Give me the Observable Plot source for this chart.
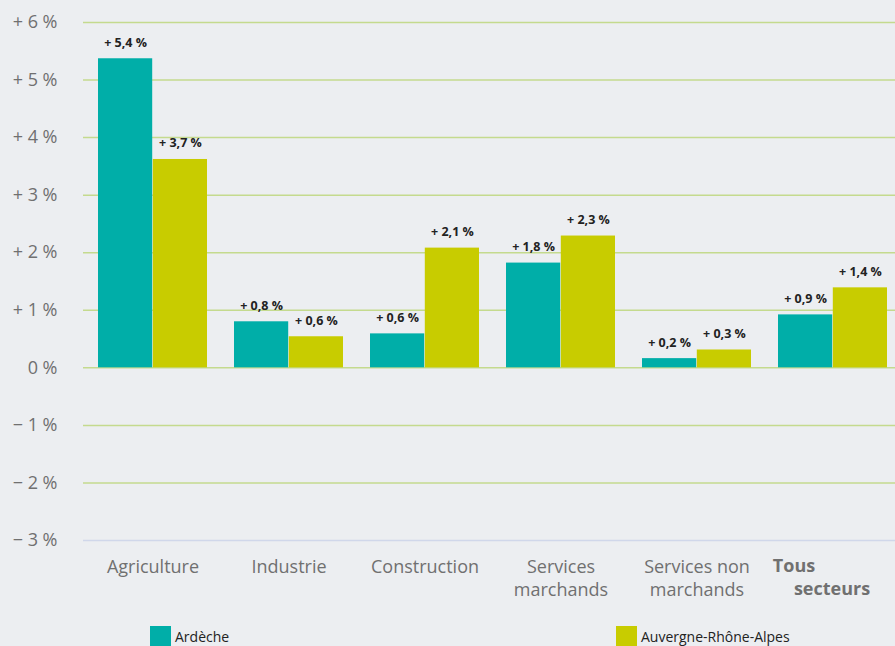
<!DOCTYPE html>
<html>
<head>
<meta charset="utf-8">
<script src="https://cdn.jsdelivr.net/npm/d3@7"></script>
<script src="https://cdn.jsdelivr.net/npm/@observablehq/plot@0.6"></script>
<style>
  html, body { margin: 0; padding: 0; background: #eceef1; width: 895px; height: 646px; overflow: hidden; }
  body { position: relative; font-family: "Open Sans", sans-serif; }
  #chart svg { background: #eceef1; display: block; }
  .leg { position: absolute; display: flex; align-items: center; font-size: 14px; color: #222; }
  .sw { width: 21px; height: 21px; margin-right: 4px; }
</style>
</head>
<body>
<div id="chart"></div>
<div class="leg" style="left:150px; top:626px;"><div class="sw" style="background:#00aea8"></div><span>Ardèche</span></div>
<div class="leg" style="left:616px; top:626px;"><div class="sw" style="background:#c8cc00"></div><span>Auvergne-Rhône-Alpes</span></div>
<script>
const sectors = ["Agriculture", "Industrie", "Construction", "Services marchands", "Services non marchands", "Tous secteurs"];
const sectorLabels = ["Agriculture", "Industrie", "Construction", "Services\nmarchands", "Services non\nmarchands"];
const boldLabel1 = "Tous";
const boldLabel2 = "secteurs";
const ardeche = [5.37, 0.80, 0.59, 1.82, 0.16, 0.92];
const aura = [3.62, 0.54, 2.08, 2.29, 0.31, 1.39];
const ardecheLabels = ["+ 5,4 %", "+ 0,8 %", "+ 0,6 %", "+ 1,8 %", "+ 0,2 %", "+ 0,9 %"];
const auraLabels = ["+ 3,7 %", "+ 0,6 %", "+ 2,1 %", "+ 2,3 %", "+ 0,3 %", "+ 1,4 %"];
const yTicks = [-3, -2, -1, 0, 1, 2, 3, 4, 5, 6];
const yTickLabels = ["− 3 %", "− 2 %", "− 1 %", "0 %", "+ 1 %", "+ 2 %", "+ 3 %", "+ 4 %", "+ 5 %", "+ 6 %"];

const teal = "#00aea8", lime = "#c8cc00";
const ardRows = sectors.map((s, i) => ({sector: s, value: ardeche[i], label: ardecheLabels[i]}));
const auraRows = sectors.map((s, i) => ({sector: s, value: aura[i], label: auraLabels[i]}));
const catRows = sectorLabels.map((t, i) => ({sector: sectors[i], text: t}));
const last = sectors[sectors.length - 1];
const half = 54.8;

const plot = Plot.plot({
  width: 895,
  height: 620,
  marginTop: 22,
  marginBottom: 80,
  marginLeft: 83,
  marginRight: 0,
  style: {background: "#eceef1", fontFamily: "Open Sans, sans-serif", overflow: "visible"},
  x: {domain: sectors, range: [82, 902], paddingInner: 0.2, paddingOuter: 0.097, axis: null},
  y: {domain: [-3, 6], ticks: yTicks, tickFormat: d => yTickLabels[yTicks.indexOf(d)], tickSize: 0, tickPadding: 26, label: null},
  marks: [
    Plot.ruleY(yTicks.filter(d => d !== -3), {stroke: "#c4da8e", strokeWidth: 1.5}),
    Plot.ruleY([-3], {stroke: "#d0d7ea", strokeWidth: 1.5}),
    Plot.barY(ardRows, {x: "sector", y: "value", fill: teal, insetRight: half}),
    Plot.barY(auraRows, {x: "sector", y: "value", fill: lime, insetLeft: half}),
    Plot.text(ardRows, {x: "sector", y: "value", text: "label", dx: -half / 2, dy: -16, fontSize: 12.5, fontWeight: "bold", fill: "#222"}),
    Plot.text(auraRows, {x: "sector", y: "value", text: "label", dx: half / 2, dy: -16, fontSize: 12.5, fontWeight: "bold", fill: "#222"}),
    Plot.text(catRows, {x: "sector", y: () => -3, text: "text", dy: 16, lineAnchor: "top", lineHeight: 1.28, fontSize: 18, fill: "#707070"}),
    Plot.text([boldLabel1], {x: () => last, y: () => -3, text: d => d, dx: -39, dy: 19, lineAnchor: "top", fontSize: 18, fontWeight: "bold", fill: "#707070"}),
    Plot.text([boldLabel2], {x: () => last, y: () => -3, text: d => d, dx: -1, dy: 42, lineAnchor: "top", fontSize: 18, fontWeight: "bold", fill: "#707070"})
  ]
});
document.getElementById("chart").appendChild(plot);
d3.select(plot).selectAll("g[aria-label^='y-axis']").attr("font-size", 18).attr("fill", "#707070");
d3.select(plot).selectAll("g[aria-label^='y-axis'] text").style("font-size", "18px").attr("fill", "#707070");
</script>
</body>
</html>
